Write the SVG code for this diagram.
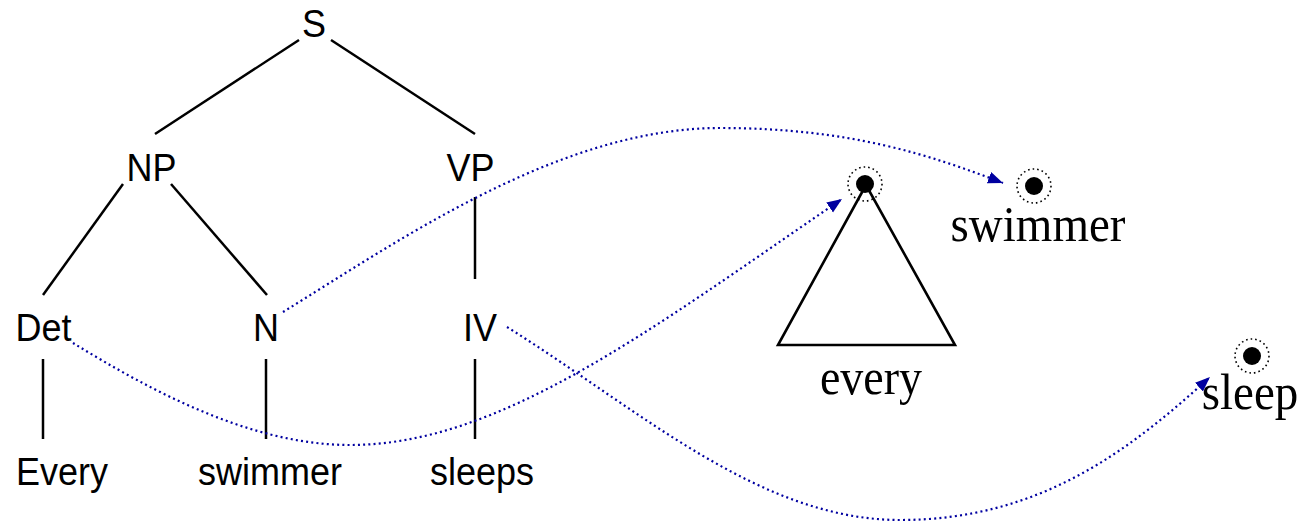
<svg xmlns="http://www.w3.org/2000/svg" width="1304" height="521" viewBox="0 0 1304 521">
  <style>
    .cat { font-family: "Liberation Sans", Arial, sans-serif; font-size: 36px; fill: #000; text-anchor: middle; }
    .sem { font-family: "Liberation Serif", "Times New Roman", serif; font-size: 47px; fill: #000; text-anchor: middle; }
    .edge { stroke: #000; stroke-width: 2.5; fill: none; }
    .link { stroke: #0000a0; stroke-width: 2.2; fill: none; stroke-dasharray: 2 3.2; marker-end: url(#head); }
    .ring { stroke: #000; stroke-width: 1.6; fill: none; stroke-dasharray: 1.6 3; }
  </style>
  <defs>
    <marker id="head" markerUnits="userSpaceOnUse" markerWidth="16" markerHeight="14" refX="15" refY="6" orient="auto">
      <path d="M0,0 L15,6 L0,12 Z" fill="#0000a0"/>
    </marker>
  </defs>
  <rect width="1304" height="521" fill="#fff"/>

  <!-- tree edges -->
  <g id="tree-edges">
    <line class="edge" x1="299" y1="40" x2="155" y2="134"/>
    <line class="edge" x1="331" y1="40" x2="475" y2="134"/>
    <line class="edge" x1="123" y1="184" x2="43" y2="295"/>
    <line class="edge" x1="171" y1="184" x2="267" y2="295"/>
    <line class="edge" x1="475" y1="197" x2="475" y2="279"/>
    <line class="edge" x1="43" y1="359" x2="43" y2="439"/>
    <line class="edge" x1="266" y1="359" x2="266" y2="439"/>
    <line class="edge" x1="475" y1="359" x2="475" y2="439"/>
  </g>

  <!-- syntax tree nodes (labels slightly tall: scaled 1.06 vertically about the baseline) -->
  <g id="node-S"><text class="cat" transform="translate(314,37) scale(1,1.06)">S</text></g>
  <g id="node-NP"><text class="cat" transform="translate(151.5,181) scale(1,1.06)">NP</text></g>
  <g id="node-VP"><text class="cat" transform="translate(470.5,181) scale(1,1.06)">VP</text></g>
  <g id="node-Det"><text class="cat" transform="translate(43.5,341) scale(1,1.06)">Det</text></g>
  <g id="node-N"><text class="cat" transform="translate(266,341) scale(1,1.06)">N</text></g>
  <g id="node-IV"><text class="cat" transform="translate(480,341) scale(1,1.06)">IV</text></g>
  <g id="node-Every"><text class="cat" transform="translate(62,485) scale(1,1.06)">Every</text></g>
  <g id="node-swimmer"><text class="cat" transform="translate(270,485) scale(1,1.06)">swimmer</text></g>
  <g id="node-sleeps"><text class="cat" transform="translate(482,485) scale(1,1.06)">sleeps</text></g>

  <!-- semantic objects -->
  <g id="node-every">
    <path d="M866,185 L778,345 L955,345 Z" fill="none" stroke="#000" stroke-width="2.6" stroke-linejoin="miter"/>
    <circle cx="865" cy="184" r="9" fill="#000"/>
    <circle class="ring" cx="865" cy="184" r="17"/>
    <text class="sem" transform="translate(871,394) scale(1,1.1)" style="font-size:46px">every</text>
  </g>
  <g id="node-swimmer-obj">
    <circle cx="1034" cy="186" r="9" fill="#000"/>
    <circle class="ring" cx="1034" cy="186" r="17"/>
    <text class="sem" transform="translate(1038,241) scale(1,1.1)">swimmer</text>
  </g>
  <g id="node-sleep">
    <circle cx="1252" cy="356" r="9" fill="#000"/>
    <circle class="ring" cx="1252" cy="356" r="17"/>
    <text class="sem" transform="translate(1250,409) scale(1,1.1)">sleep</text>
  </g>

  <!-- mapping connectors -->
  <g id="connectors">
    <path class="link" d="M283,312 C400,240 560,128 720,128 C850,128 930,155 1003,183"/>
    <path class="link" d="M73,343 C150,390 250,445 350,445 C500,445 650,330 842,199"/>
    <path class="link" d="M507,327 C640,410 760,520 900,520 C1040,520 1130,450 1210,377"/>
  </g>
</svg>
